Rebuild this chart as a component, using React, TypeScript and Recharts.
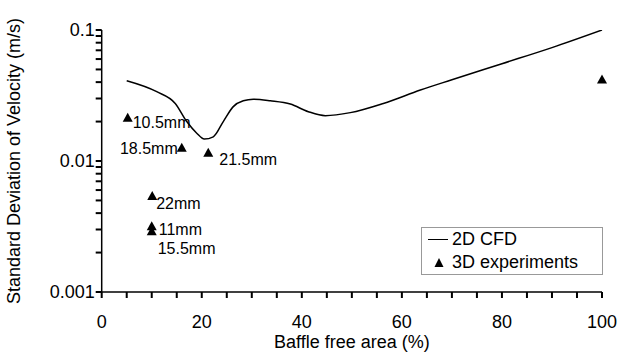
import { ComposedChart, Line, Scatter, XAxis, YAxis } from "recharts";

// 2D CFD curve (baffle free area %, std dev of velocity m/s)
const cfdX = [5, 11, 14.7, 17, 19, 20.5, 22.3, 24.3, 26.3, 28.3, 30.3, 33.7, 37.7, 41.3, 44.7, 49.7, 56.3, 63.7, 70, 80, 90, 100];
const cfdY = [0.041, 0.0338, 0.0275, 0.02, 0.0163, 0.0147, 0.0153, 0.02, 0.026, 0.0288, 0.0296, 0.0288, 0.0272, 0.0238, 0.0222, 0.0234, 0.0275, 0.0348, 0.0417, 0.0553, 0.0734, 0.1];

// 3D experiments
const expX = [5.2, 16, 21.3, 10.1, 10, 10, 100];
const expY = [0.0212, 0.0125, 0.01145, 0.00535, 0.00315, 0.00288, 0.0415];
const expLabels = ["10.5mm", "18.5mm", "21.5mm", "22mm", "11mm", "15.5mm", ""];

const xTicks = [0, 5, 10, 15, 20, 25, 30, 35, 40, 45, 50, 55, 60, 65, 70, 75, 80, 85, 90, 95, 100];
const xLabelTicks = [0, 20, 40, 60, 80, 100];
const yTicks = [
  0.001, 0.002, 0.003, 0.004, 0.005, 0.006, 0.007, 0.008, 0.009,
  0.01, 0.02, 0.03, 0.04, 0.05, 0.06, 0.07, 0.08, 0.09, 0.1,
];
const yLabelTicks = [0.001, 0.01, 0.1];

const cfd = cfdX.map((x, i) => ({ x, y: cfdY[i] }));
const experiments = expX.map((x, i) => ({ x, y: expY[i], label: expLabels[i] }));

// where each annotation sits relative to its marker
const labelPos: Record<string, { dx: number; dy: number; anchor: "start" | "end" }> = {
  "10.5mm": { dx: 5, dy: 4, anchor: "start" },
  "18.5mm": { dx: -4, dy: 0, anchor: "end" },
  "21.5mm": { dx: 11, dy: 6, anchor: "start" },
  "22mm": { dx: 4, dy: 7, anchor: "start" },
  "11mm": { dx: 7, dy: 3, anchor: "start" },
  "15.5mm": { dx: 6, dy: 17, anchor: "start" },
};

const FONT = "'Liberation Sans', Arial, sans-serif";
const TICK_SIZE = 6;
const TICK_MARGIN = 3;
const TICK_W = 2;

function Triangle(props: any) {
  const { cx, cy, payload } = props;
  const pos = labelPos[payload?.label];
  return (
    <g>
      <path d={`M${cx},${cy - 5.5} L${cx - 5},${cy + 3.5} L${cx + 5},${cy + 3.5} Z`} fill="#000" />
      {pos && (
        <text
          x={cx + pos.dx}
          y={cy + pos.dy}
          textAnchor={pos.anchor}
          dominantBaseline="central"
          fontSize={16}
          fontFamily={FONT}
          fill="#000"
        >
          {payload.label}
        </text>
      )}
    </g>
  );
}

// tick mark drawn here, label on majors only
function XTick(props: any) {
  const { x, y, payload } = props;
  const top = y - TICK_MARGIN - TICK_SIZE;
  return (
    <g>
      <rect x={x - TICK_W / 2} y={top} width={TICK_W} height={TICK_SIZE} fill="#000" />
      {xLabelTicks.includes(payload.value) && (
        <text x={x} y={y} dy={27} textAnchor="middle" fontSize={18} fontFamily={FONT} fill="#000">
          {payload.value}
        </text>
      )}
    </g>
  );
}

function YTick(props: any) {
  const { x, y, payload } = props;
  const right = x + TICK_MARGIN + TICK_SIZE;
  const major = yLabelTicks.some((v) => Math.abs(v - payload.value) < 1e-9);
  return (
    <g>
      <rect x={right - TICK_SIZE} y={y - TICK_W / 2} width={TICK_SIZE} height={TICK_W} fill="#000" />
      {major && (
        <text x={x} y={y} dx={2} dy={6} textAnchor="end" fontSize={18} fontFamily={FONT} fill="#000">
          {String(payload.value)}
        </text>
      )}
    </g>
  );
}

const axisStyle = { stroke: "#000", strokeWidth: 1.5 };

export default function App() {
  return (
    <div style={{ position: "absolute", left: 0, top: 0, width: 619, height: 360, background: "#fff", fontFamily: FONT }}>
      <ComposedChart width={619} height={360} margin={{ top: 30, right: 17, bottom: 8, left: 6 }}>
        <XAxis
          type="number"
          dataKey="x"
          domain={[0, 100]}
          ticks={xTicks}
          interval={0}
          tick={XTick}
          tickLine={false}
          axisLine={axisStyle}
          tickSize={TICK_SIZE}
          tickMargin={TICK_MARGIN}
          height={60}
          label={{
            value: "Baffle free area (%)",
            position: "insideBottom",
            offset: 4,
            style: { fontSize: 18, fontFamily: FONT, fill: "#000" },
          }}
        />
        <YAxis
          type="number"
          dataKey="y"
          scale="log"
          domain={[0.001, 0.1]}
          allowDataOverflow
          ticks={yTicks}
          interval={0}
          tick={YTick}
          tickLine={false}
          axisLine={axisStyle}
          tickSize={TICK_SIZE}
          tickMargin={TICK_MARGIN}
          width={95.7}
          label={{
            value: "Standard Deviation of Velocity (m/s)",
            angle: -90,
            position: "insideLeft",
            offset: 8,
            style: { fontSize: 18, fontFamily: FONT, fill: "#000", textAnchor: "middle" },
          }}
        />
        <Line
          data={cfd}
          dataKey="y"
          type="monotone"
          stroke="#000"
          strokeWidth={1.5}
          dot={false}
          activeDot={false}
          isAnimationActive={false}
        />
        <Scatter data={experiments} dataKey="y" shape={<Triangle />} isAnimationActive={false} />
      </ComposedChart>
      <div
        style={{
          position: "absolute",
          left: 421,
          top: 227,
          width: 180,
          height: 46,
          border: "1px solid #999",
          background: "#fff",
          fontSize: 18,
          color: "#000",
          lineHeight: "23px",
        }}
      >
        <div style={{ display: "flex", alignItems: "center", height: 23 }}>
          <span style={{ display: "inline-block", width: 20, borderTop: "1.5px solid #000", marginLeft: 6, marginRight: 4 }} />
          2D CFD
        </div>
        <div style={{ display: "flex", alignItems: "center", height: 23 }}>
          <svg width={20} height={12} style={{ marginLeft: 8, marginRight: 2 }}>
            <path d="M9,1 L4.5,10 L13.5,10 Z" fill="#000" />
          </svg>
          3D experiments
        </div>
      </div>
    </div>
  );
}
